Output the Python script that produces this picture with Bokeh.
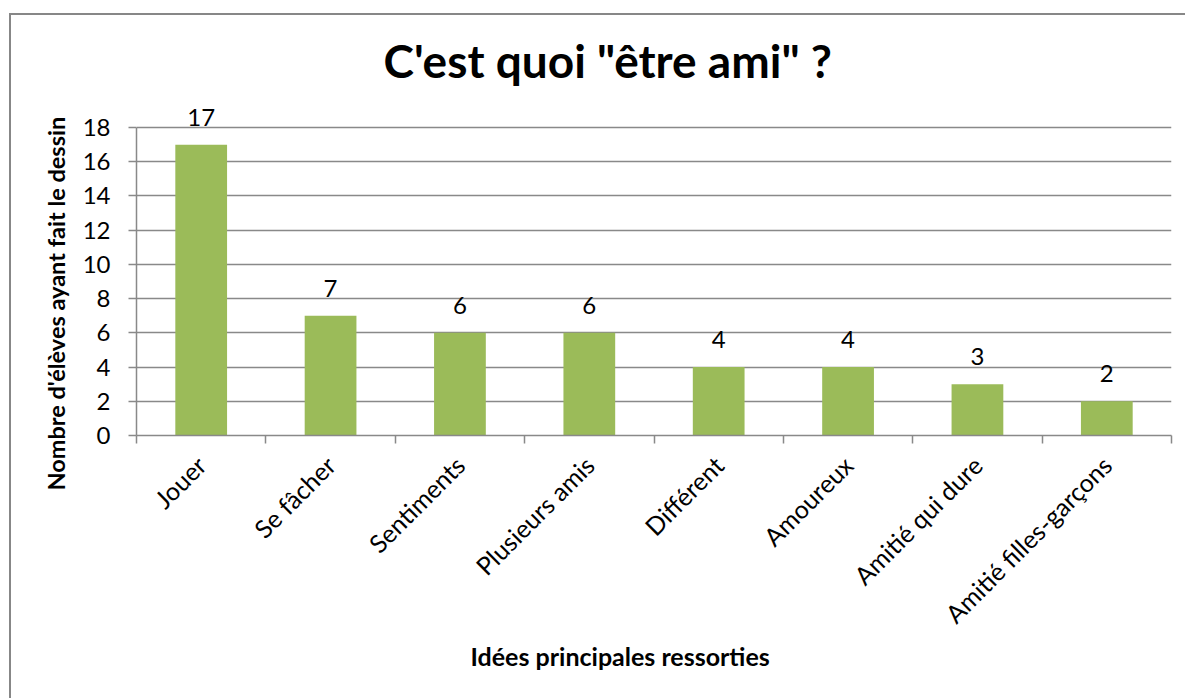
import math
from bokeh.plotting import figure
from bokeh.models import (ColumnDataSource, Range1d, FactorRange, LinearAxis,
                          FixedTicker, LabelSet, Title)
from bokeh.core.properties import value
from bokeh.embed import file_html
from bokeh.resources import INLINE

categories = ["Jouer", "Se fâcher", "Sentiments", "Plusieurs amis", "Différent",
              "Amoureux", "Amitié qui dure", "Amitié filles-garçons"]
values = [17, 7, 6, 6, 4, 4, 3, 2]
y_ticks = [0, 2, 4, 6, 8, 10, 12, 14, 16, 18]
title_text = "C'est quoi \"être ami\" ?"
x_label = "Idées principales ressorties"
y_label = "Nombre d'élèves ayant fait le dessin"

FONT = "Lato"
GRAY = "#898989"
GREEN = "#9BBB59"

src = ColumnDataSource(dict(cat=categories, val=values, lab=[str(v) for v in values]))

# frame extends a little above 18 so that the "17" label is not clipped
p = figure(width=1185, height=698, x_range=FactorRange(*categories), y_range=Range1d(0, 19.58),
           output_backend="svg", toolbar_location=None, x_axis_location=None, y_axis_location=None,
           min_border_left=136, min_border_right=14, min_border_top=100, min_border_bottom=263)
# chart-area border (top and left edges) drawn as the page background behind a transparent canvas
p.styles = {"background-color": "white",
            "background-image": "linear-gradient(#878787, #878787), linear-gradient(#878787, #878787)",
            "background-size": "100% 2px, 2px 100%",
            "background-position": "9px 13px, 9px 13px",
            "background-repeat": "no-repeat"}
p.outline_line_color = None
p.background_fill_color = "white"
p.border_fill_color = None

p.vbar(x="cat", top="val", width=0.4, source=src, fill_color=GREEN, line_color=None)

# y axis
yax = LinearAxis(ticker=FixedTicker(ticks=y_ticks), bounds=(0, 18))
yax.axis_line_color = GRAY
yax.axis_line_width = 1.5
yax.major_tick_line_color = GRAY
yax.major_tick_line_width = 1.5
yax.major_tick_out = 8
yax.major_tick_in = 0
yax.minor_tick_line_color = None
yax.major_label_standoff = 18
yax.major_label_text_font = FONT
yax.major_label_text_font_size = "24px"
yax.major_label_text_color = "black"
p.add_layout(yax, "left")

# x axis: labels at category centres, tick marks at category boundaries
n = len(categories)
centres = [i + 0.5 for i in range(n)]
xax = LinearAxis(ticker=FixedTicker(ticks=centres, minor_ticks=list(range(n + 1))))
xax.major_label_overrides = {c: name for c, name in zip(centres, categories)}
xax.axis_line_color = GRAY
xax.axis_line_width = 1.5
xax.major_tick_line_color = None
xax.major_tick_out = 0
xax.major_tick_in = 0
xax.minor_tick_line_color = GRAY
xax.minor_tick_line_width = 1.5
xax.minor_tick_out = 8
xax.minor_tick_in = 0
xax.major_label_orientation = math.pi / 4
xax.major_label_standoff = 17
xax.major_label_text_font = FONT
xax.major_label_text_font_size = "25px"
xax.major_label_text_color = "black"
p.add_layout(xax, "below")

p.xgrid.visible = False
p.ygrid.ticker = FixedTicker(ticks=y_ticks)
p.ygrid.grid_line_color = GRAY
p.ygrid.grid_line_width = 1.5

labels = LabelSet(x="cat", y="val", text="lab", source=src, text_align="center",
                  text_baseline="alphabetic", y_offset=19, text_font=value(FONT),
                  text_font_size=value("24px"), text_color=value("black"))
p.add_layout(labels)

p.add_layout(Title(text=x_label, align="left", offset=334, text_font=FONT,
                   text_font_size="25px", text_font_style="bold", text_color="black",
                   vertical_align="top", standoff=-4), "below")
p.add_layout(Title(text=y_label, align="left", offset=-55, text_font=FONT,
                   text_font_size="23.5px", text_font_style="bold", text_color="black",
                   standoff=20), "left")
p.add_layout(Title(text=title_text, align="left", offset=247, text_font=FONT,
                   text_font_size="46px", text_font_style="bold", text_color="black",
                   standoff=26), "above")

open("out.html", "w").write(file_html(p, INLINE))
